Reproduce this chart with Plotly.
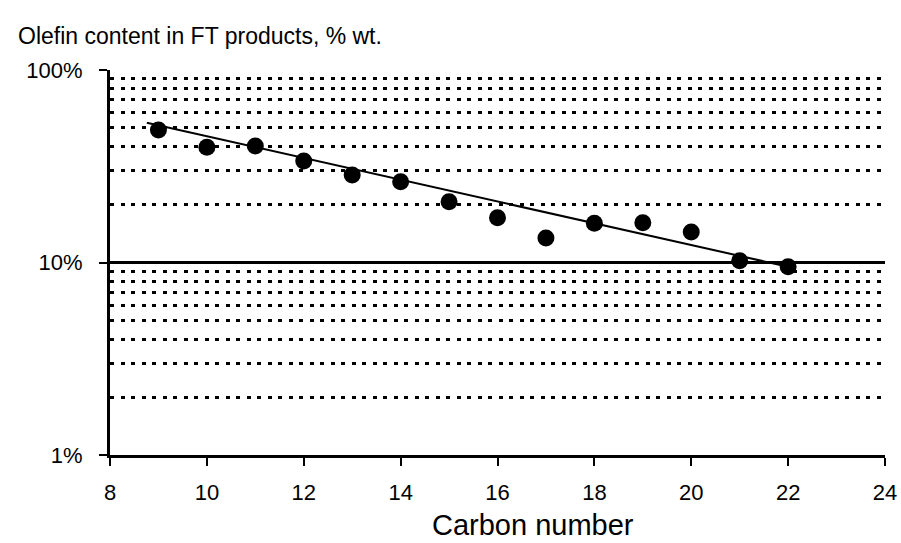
import plotly.graph_objects as go

# Olefin content (% wt.) by carbon number
carbon_number = [9, 10, 11, 12, 13, 14, 15, 16, 17, 18, 19, 20, 21, 22]
olefin_pct = [48.8, 39.7, 40.3, 33.7, 28.5, 26.3, 20.7, 17.1, 13.4, 16.0, 16.1, 14.4, 10.2, 9.5]

# Exponential trend line end points
trend_x = [8.76, 22.05]
trend_y = [53.2, 9.44]

# Axis ticks
x_ticks = [8, 10, 12, 14, 16, 18, 20, 22, 24]
y_major = [1, 10, 100]
y_major_text = ["1%", "10%", "100%"]
y_minor = [2, 3, 4, 5, 6, 7, 8, 9, 20, 30, 40, 50, 60, 70, 80, 90]

FONT = "Liberation Sans, Arial, sans-serif"
W, H = 901, 543

fig = go.Figure()
fig.add_trace(go.Scatter(
    x=trend_x, y=trend_y, mode="lines",
    line=dict(color="black", width=2), hoverinfo="skip", showlegend=False,
))
fig.add_trace(go.Scatter(
    x=carbon_number, y=olefin_pct, mode="markers",
    marker=dict(color="black", size=17, line=dict(width=0)), showlegend=False,
))

# x-axis title, placed slightly right of the plot centre
fig.add_annotation(
    text="Carbon number", xref="paper", yref="paper",
    x=(533 - 110) / (W - 110 - 16), y=-(525 - (H - 88)) / (H - 70 - 88),
    xanchor="center", yanchor="middle", showarrow=False,
    font=dict(family=FONT, size=29, color="black"),
)

fig.update_layout(
    width=W, height=H,
    margin=dict(l=110, r=16, t=70, b=88, autoexpand=False),
    paper_bgcolor="white", plot_bgcolor="white",
    font=dict(family=FONT, color="black", size=22),
    title=dict(
        text="Olefin content in FT products, % wt.",
        x=18 / W, xanchor="left", xref="container",
        y=1 - 36 / H, yanchor="middle", yref="container",
        font=dict(family=FONT, size=23, color="black"),
    ),
    xaxis=dict(
        range=[8, 24], tickvals=x_ticks, ticks="outside", ticklen=8,
        tickwidth=2, tickcolor="black", showline=True, linewidth=3,
        linecolor="black", showgrid=False, zeroline=False, automargin=False,
        tickfont=dict(size=22), ticklabelstandoff=8,
    ),
    yaxis=dict(
        type="log", range=[0, 2], tickvals=y_major, ticktext=y_major_text,
        ticks="outside", ticklen=8, tickwidth=2, tickcolor="black",
        showline=True, linewidth=3, linecolor="black", automargin=False,
        showgrid=True, gridcolor="black", gridwidth=3, zeroline=False,
        tickfont=dict(size=22), ticklabelstandoff=12,
        minor=dict(
            tickvals=y_minor, ticklen=0, showgrid=True,
            gridcolor="black", gridwidth=3, griddash="4px,6.5px",
        ),
    ),
)

fig.write_html("out.html")
